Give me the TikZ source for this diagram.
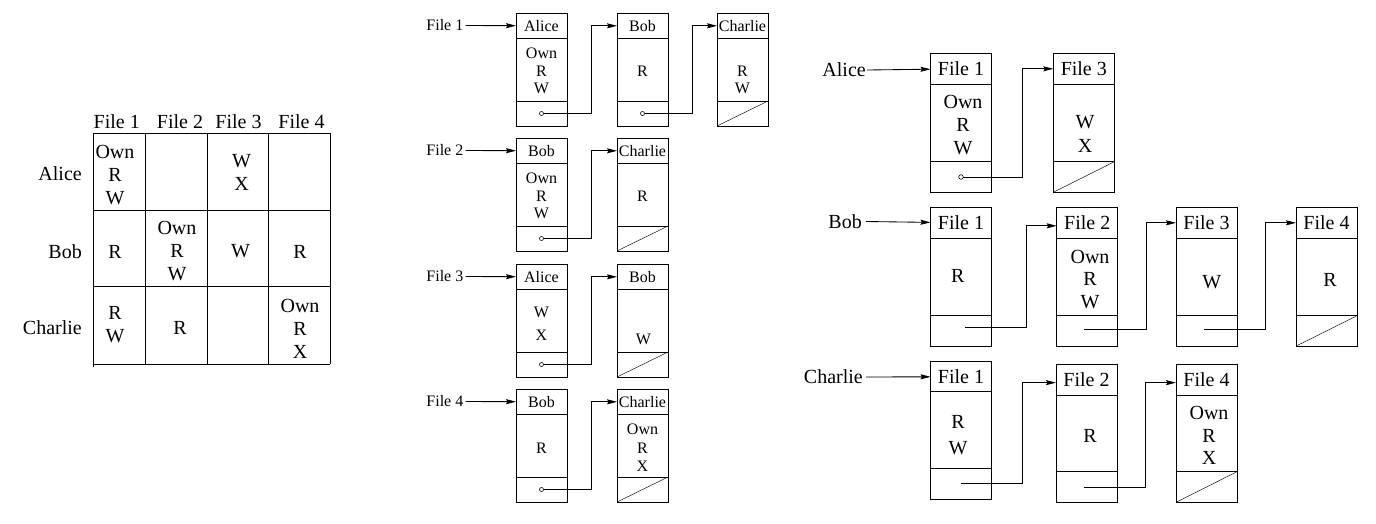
\documentclass[tikz,border=0pt]{standalone}
\usepackage{fontspec}
\setmainfont{Liberation Serif}
\usetikzlibrary{arrows.meta}
\tikzset{
  bx/.style={draw, line width=0.95pt, inner sep=0pt, outer sep=0pt, anchor=north west},
  lnk/.style={line width=0.85pt, -{Stealth[length=10pt,width=5pt,inset=1.5pt]}},
  nul/.style={line width=0.45pt},
  ptc/.style={line width=0.6pt},
  big/.style={font=\fontsize{20}{23}\selectfont, inner sep=0pt, align=center},
  sml/.style={font=\fontsize{16}{17.5}\selectfont, inner sep=0pt, align=center},
  grid/.style={line width=0.95pt},
}
% #1 name, #2 x, #3 ytop, #4 width, #5 header h, #6 content h, #7 pointer h, #8 header text, #9 font style
\newcommand\acbox[9]{%
  \node[bx, #9, minimum width=#4pt, minimum height=#5pt] (#1h) at (#2,#3) {#8};
  \node[bx, minimum width=#4pt, minimum height=#6pt] (#1c) at (#1h.south west) {};
  \node[bx, minimum width=#4pt, minimum height=#7pt] (#1p) at (#1c.south west) {};
}
\begin{document}
\begin{tikzpicture}[x=1pt,y=-1pt]
\useasboundingbox (0,0) rectangle (1376,523);

% ================= access matrix =================
\draw[grid] (93,133.3) -- (93,367);
\foreach \xx in {145.7,207.3,268.7,330} \draw[grid] (\xx,133.3) -- (\xx,364.3);
\foreach \yy in {133.3,210,286.7,364.3} \draw[grid] (93,\yy) -- (330,\yy);
\node[big] (mf1) at (116.7,121.5) {File 1};
\node[big] (mf2) at (180,121.5) {File 2};
\node[big] (mf3) at (238.5,121.5) {File 3};
\node[big] (mf4) at (301.5,121.5) {File 4};
\node[big, anchor=east] (ma) at (82,173.5) {Alice};
\node[big, anchor=east] (mb) at (82,251.5) {Bob};
\node[big, anchor=east] (mc) at (82,328) {Charlie};
\node[big] (m11) at (115,175) {Own\\R\\W};
\node[big] (m13) at (241.5,172.5) {W\\X};
\node[big] (m21) at (115,251.5) {R};
\node[big] (m22) at (177,251) {Own\\R\\W};
\node[big] (m23) at (240.5,251.5) {W};
\node[big] (m24) at (300,251.5) {R};
\node[big] (m31) at (115,324.5) {R\\W};
\node[big] (m32) at (180,328) {R};
\node[big] (m34) at (300,328.5) {Own\\R\\X};

% ================= access control lists =================
\node[sml, anchor=east] (f1) at (463.5,25.5) {File 1};
\node[sml, anchor=east] (f2) at (463.5,150.5) {File 2};
\node[sml, anchor=east] (f3) at (463.5,276.5) {File 3};
\node[sml, anchor=east] (f4) at (463.5,401.5) {File 4};

\acbox{a11}{516}{13.3}{51}{25}{62.7}{25}{Alice}{sml}
\acbox{a12}{617}{13.3}{51}{25}{62.7}{25}{Bob}{sml}
\acbox{a13}{717}{13.3}{51}{25}{62.7}{25}{Charlie}{sml}
\acbox{a21}{516}{138.3}{51}{25}{62.7}{25}{Bob}{sml}
\acbox{a22}{617}{138.3}{51}{25}{62.7}{25}{Charlie}{sml}
\acbox{a31}{516}{264.3}{51}{25}{62.7}{25}{Alice}{sml}
\acbox{a32}{617}{264.3}{51}{25}{62.7}{25}{Bob}{sml}
\acbox{a41}{516}{389.3}{51}{25}{62.7}{25}{Bob}{sml}
\acbox{a42}{617}{389.3}{51}{25}{62.7}{25}{Charlie}{sml}

\node[sml, align=center, font=\fontsize{16}{17.3}\selectfont] (a11t) at (541.5,71) {Own\\R\\W};
\node[sml] (a12t) at (642.5,71.5) {R};
\node[sml] (a13t) at (742.5,80) {R\\W};
\node[sml, font=\fontsize{16}{17.3}\selectfont] (a21t) at (541.5,196) {Own\\R\\W};
\node[sml] (a22t) at (642.5,196.5) {R};
\node[sml, font=\fontsize{16}{23}\selectfont] (a31t) at (541.5,323.3) {W\\X};
\node[sml] (a32t) at (643.3,339.3) {W};
\node[sml] (a41t) at (541.5,448.3) {R};
\node[sml, font=\fontsize{16}{18.5}\selectfont] (a42t) at (642.5,447.7) {Own\\R\\X};

\draw[lnk] (f1.east) ++(2,0) -- (a11h);
\draw[lnk] (f2.east) ++(2,0) -- (a21h);
\draw[lnk] (f3.east) ++(2,0) -- (a31h);
\draw[lnk] (f4.east) ++(2,0) -- (a41h);

\foreach \n in {a11,a12,a21,a31,a41} \draw[ptc] (\n p.center) circle[radius=2];
\draw[lnk] (a11p.center) ++(2,0) -- ++(48.2,0) |- (a12h.west);
\draw[lnk] (a12p.center) ++(2,0) -- ++(48.2,0) |- (a13h.west);
\draw[lnk] (a21p.center) ++(2,0) -- ++(48.2,0) |- (a22h.west);
\draw[lnk] (a31p.center) ++(2,0) -- ++(48.2,0) |- (a32h.west);
\draw[lnk] (a41p.center) ++(2,0) -- ++(48.2,0) |- (a42h.west);

\foreach \n in {a13,a22,a32,a42} \draw[nul] (\n p.south west) -- (\n p.north east);

% ================= capability lists =================
\node[big, anchor=east] (ua) at (866,70) {Alice};
\node[big, anchor=east] (ub) at (862,221.5) {Bob};
\node[big, anchor=east] (uc) at (863,377) {Charlie};

\acbox{c11}{930.5}{53.3}{61}{31}{77.4}{30.6}{File 1}{big}
\acbox{c12}{1053.3}{53.3}{61}{31}{77.4}{30.6}{File 3}{big}
\acbox{c21}{930.5}{207.3}{61}{31}{77.4}{30.4}{File 1}{big}
\acbox{c22}{1056.7}{207.3}{61}{31}{77.4}{30.4}{File 2}{big}
\acbox{c23}{1176}{207.3}{61}{31}{77.4}{30.4}{File 3}{big}
\acbox{c24}{1296}{207.3}{61}{31}{77.4}{30.4}{File 4}{big}
\acbox{c31}{930.5}{361.7}{61}{30}{76.6}{30.7}{File 1}{big}
\acbox{c32}{1056}{364.3}{61}{30.7}{76.7}{30.6}{File 2}{big}
\acbox{c33}{1176}{364.3}{61}{30.7}{76.7}{30.6}{File 4}{big}

\node[big] (c11t) at (963,125.5) {Own\\R\\W};
\node[big, font=\fontsize{20}{24}\selectfont] (c12t) at (1085,133.5) {W\\X};
\node[big] (c21t) at (957.7,275.5) {R};
\node[big, font=\fontsize{20}{22.5}\selectfont] (c22t) at (1090,279.5) {Own\\R\\W};
\node[big] (c23t) at (1211.7,282.5) {W};
\node[big] (c24t) at (1330,279.5) {R};
\node[big, font=\fontsize{20}{26.6}\selectfont] (c31t) at (958,435) {R\\W};
\node[big] (c32t) at (1090,435.5) {R};
\node[big, font=\fontsize{20}{22.5}\selectfont] (c33t) at (1209,435.5) {Own\\R\\X};

\draw[lnk] (ua.east) ++(1,0) -- (c11h);
\draw[lnk] (ub.east) ++(4,0) -- (c21h);
\draw[lnk] (uc.east) ++(3,0) -- (c31h);

\draw[ptc] (c11p.center) circle[radius=2.3];
\draw[lnk] (c11p.center) ++(2.3,0) -- ++(59.2,0) |- (c12h.west);
\draw[lnk] (c21p.center) ++(4,-3) -- ++(61,0) |- ([yshift=-3pt]c22h.west);
\draw[lnk] (c22p.center) ++(-3,-1) -- ++(62.5,0) |- (c23h.west);
\draw[lnk] (c23p.center) ++(-2.5,-1) -- ++(61,0) |- (c24h.west);
\draw[lnk] (c31p.center) ++(0,0) -- ++(61.3,0) |- ([yshift=-3pt]c32h.west);
\draw[lnk] (c32p.center) ++(-2.2,0) -- ++(61.5,0) |- ([yshift=-3pt]c33h.west);

\foreach \n in {c12,c24,c33} \draw[nul] (\n p.south west) -- (\n p.north east);
\end{tikzpicture}
\end{document}
